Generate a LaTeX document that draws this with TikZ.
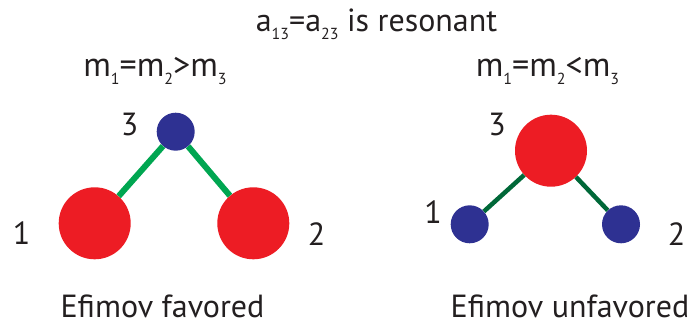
\documentclass[tikz,border=0pt]{standalone}
\usepackage{fontspec}
\setmainfont{PT Sans}
\usetikzlibrary{positioning}
\definecolor{atomred}{RGB}{237,28,36}
\definecolor{atomblue}{RGB}{46,49,146}
\definecolor{bondgreen}{RGB}{0,166,81}
\definecolor{bonddark}{RGB}{0,104,56}
\definecolor{inkgray}{RGB}{35,31,32}
\newcommand{\idx}[1]{\raisebox{-8pt}{\fontsize{16}{16}\selectfont #1}}

\begin{document}
\begin{tikzpicture}[
    x=1pt, y=-1pt,
    every node/.style={font=\fontsize{32}{38}\selectfont, text=inkgray, inner sep=0pt},
    masses/.style={anchor=base, font=\fontsize{34}{40}\selectfont},
    heavy/.style={circle, fill=atomred, minimum size=72pt},
    light/.style={circle, fill=atomblue, minimum size=38pt},
    bond/.style={bondgreen, line width=6pt},
    weakbond/.style={bonddark, line width=4.5pt}
]
\useasboundingbox (0,0) rectangle (694,326);
% headings
\node (title) [anchor=base] at (376.5,32) {a\idx{13}=a\idx{23} is resonant};
\node (massL) [masses] at (155,77) {m\idx{1}=m\idx{2}>m\idx{3}};
\node (massR) [masses] at (547.5,77) {m\idx{1}=m\idx{2}<m\idx{3}};
% favored: light atom 3 between heavy 1 and 2
\node (f3) [light] at (175.7,131.7) {};
\node (f1) [heavy] at (94.7,223.3) {};
\node (f2) [heavy] at (253.3,223.3) {};
\draw[bond] (f3) -- (f1);
\draw[bond] (f3) -- (f2);
\node (f3lab) at (129.5,124) {3};
\node (f1lab) at (21.5,233.5) {1};
\node (f2lab) at (316.7,234) {2};
\node (fav) [anchor=base] at (162.5,317) {Efimov favored};
% unfavored: heavy atom 3 between light 1 and 2
\node (u3) [heavy] at (551,150.7) {};
\node (u1) [light] at (469.7,224.3) {};
\node (u2) [light] at (621,224.3) {};
\draw[weakbond] (u3) -- (u1);
\draw[weakbond] (u3) -- (u2);
\node (u3lab) at (497,124) {3};
\node (u1lab) at (433,212.5) {1};
\node (u2lab) at (676.5,234) {2};
\node (unfav) [anchor=base] at (570,317) {Efimov unfavored};
\end{tikzpicture}
\end{document}
